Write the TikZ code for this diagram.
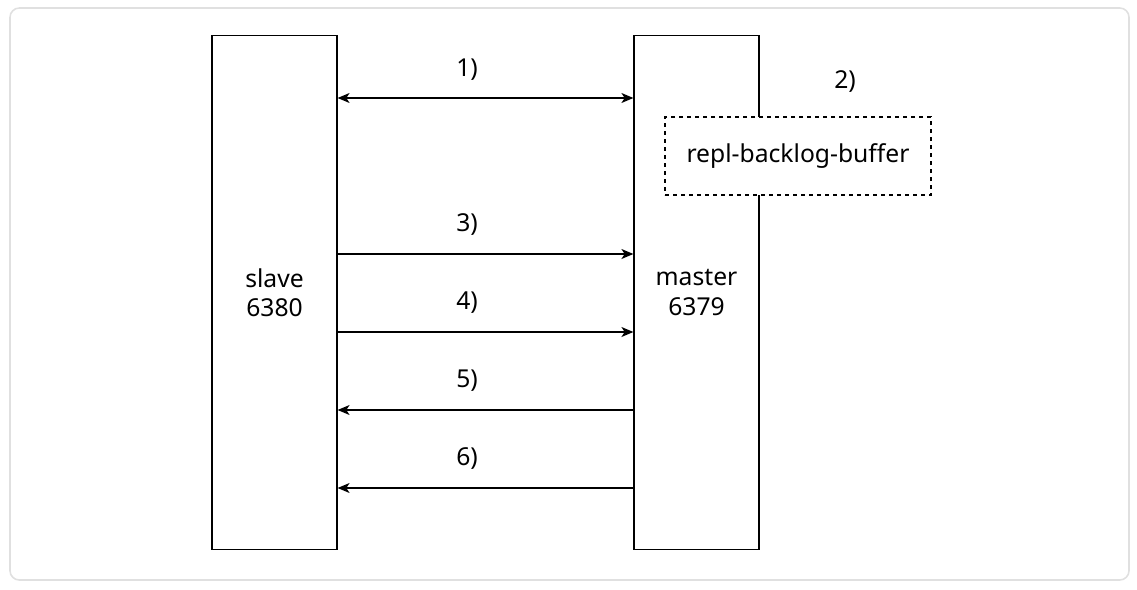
\documentclass[tikz,border=0pt]{standalone}
\usepackage{fontspec}
\setmainfont{Noto Sans}
\usetikzlibrary{arrows.meta,positioning}

\begin{document}
\begin{tikzpicture}[
  x=0.75pt, y=-0.75pt,
  font=\fontsize{18.5}{22}\selectfont,
  frame/.style={draw=black!12, line width=1.2pt, rounded corners=7pt},
  host/.style={draw, line width=0.9pt, align=center, minimum width=93.75pt,
    minimum height=386pt},
  buffer/.style={draw, dashed, fill=white, line width=0.9pt, minimum width=199.5pt,
    minimum height=58.5pt},
  arr/.style={-{Stealth[length=9pt,width=7.5pt,inset=2.5pt]}, line width=0.9pt},
  darr/.style={{Stealth[length=9pt,width=7.5pt,inset=2.5pt]}-{Stealth[length=9pt,width=7.5pt,inset=2.5pt]}, line width=0.9pt}
]
\useasboundingbox (0,0) rectangle (1137,589);
\draw[frame] (10,8) rectangle (1129,580);

\node[host] (slave) at (274.5,292.5) {slave\\6380};
\node[host] (master) at (696.5,292.5) {master\\6379};
\node[buffer] (backlog) at (798,156) {repl-backlog-buffer};
\node (step2) at (845,82) {2)};

% slave <-> master handshake
\node (lbl1) at (467,70) {1)};
\draw[darr] (slave.east |- 0,98) -- (master.west |- 0,98);

% slave -> master
\foreach \n/\y in {3/254, 4/332} {
  \node (lbl\n) at (467,\y-29) {\n)};
  \draw[arr] (slave.east |- 0,\y) -- (master.west |- 0,\y);
}

% master -> slave
\foreach \n/\y in {5/410, 6/488} {
  \node (lbl\n) at (467,\y-29) {\n)};
  \draw[arr] (master.west |- 0,\y) -- (slave.east |- 0,\y);
}
\end{tikzpicture}
\end{document}
